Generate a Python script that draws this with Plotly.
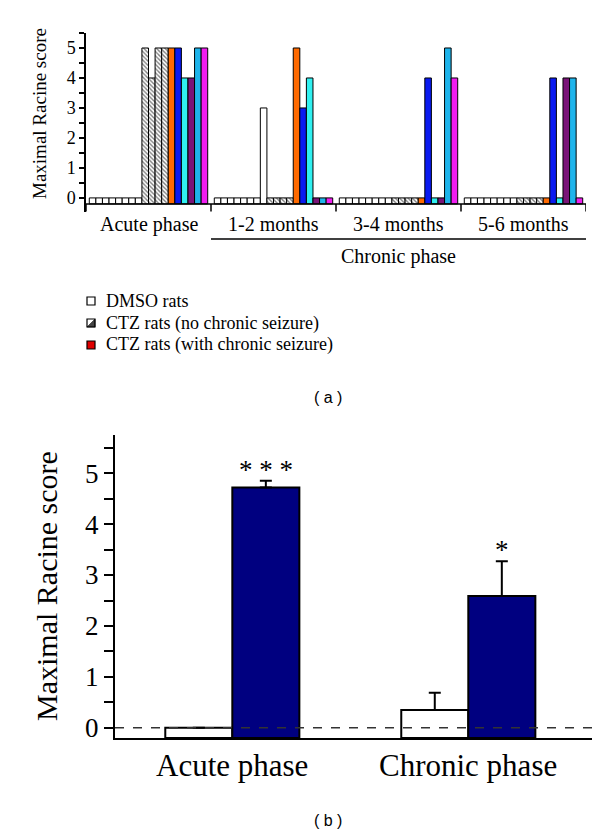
import plotly.graph_objects as go

# ---------------- data: panel (a) ----------------
groups = ["Acute phase", "1-2 months", "3-4 months", "5-6 months"]
dmso_scores = [
    [0, 0, 0, 0, 0, 0, 0, 0],
    [0, 0, 0, 0, 0, 0, 0, 3],
    [0, 0, 0, 0, 0, 0, 0, 0],
    [0, 0, 0, 0, 0, 0, 0, 0],
]
ctz_no_scores = [
    [5, 4, 5, 5],
    [0, 0, 0, 0],
    [0, 0, 0, 0],
    [0, 0, 0, 0],
]
ctz_with_scores = [
    [5, 5, 4, 4, 5, 5],
    [5, 3, 4, 0, 0, 0],
    [0, 4, 0, 0, 5, 4],
    [0, 4, 0, 4, 4, 0],
]
ctz_with_colors = ["#FF6A00", "#0A1AF0", "#30F0F0", "#7A1478", "#1EB4EB", "#F01EF0"]
legend_labels = ["DMSO rats", "CTZ rats (no chronic seizure)", "CTZ rats (with chronic seizure)"]
y_ticks = [0, 1, 2, 3, 4, 5]
y_minor = [0.5, 1.5, 2.5, 3.5, 4.5, 5.5]

# ---------------- data: panel (b) ----------------
phases = ["Acute phase", "Chronic phase"]
dmso_mean = [0.0, 0.35]
dmso_err = [0.0, 0.34]
ctz_mean = [4.72, 2.59]
ctz_err = [0.13, 0.68]
sig_marks = ["* * *", "*"]

SERIF = "Liberation Serif"
W, H = 600, 829


def px(x):
    return x / W


def py(y):
    return 1 - y / H


BASE_A = -0.2
fig = go.Figure()

# ----- panel (a) bars -----
slot = 19
dx, dy, hx, hy, cx, cy, cc = [], [], [], [], [], [], []
for g in range(len(groups)):
    for i, v in enumerate(dmso_scores[g]):
        dx.append(g * slot + 1 + i)
        dy.append(v - BASE_A)
    for i, v in enumerate(ctz_no_scores[g]):
        hx.append(g * slot + 9 + i)
        hy.append(v - BASE_A)
    for i, v in enumerate(ctz_with_scores[g]):
        cx.append(g * slot + 13 + i)
        cy.append(v - BASE_A)
        cc.append(ctz_with_colors[i])

fig.add_trace(go.Bar(x=dx, y=dy, base=BASE_A, width=1, xaxis="x", yaxis="y",
                     marker=dict(color="white", line=dict(color="black", width=1)),
                     showlegend=False, hoverinfo="skip"))
fig.add_trace(go.Bar(x=hx, y=hy, base=BASE_A, width=1, xaxis="x", yaxis="y",
                     marker=dict(color="white", line=dict(color="black", width=1),
                                 pattern=dict(shape="\\", size=3, solidity=0.45,
                                              fgcolor="black", bgcolor="white")),
                     showlegend=False, hoverinfo="skip"))
fig.add_trace(go.Bar(x=cx, y=cy, base=BASE_A, width=1, xaxis="x", yaxis="y",
                     marker=dict(color=cc, line=dict(color="black", width=1)),
                     showlegend=False, hoverinfo="skip"))

# ----- panel (b) bars -----
bx_white = [0, 3.52]
bx_blue = [1, 4.52]
BASE_B = -0.2
fig.add_trace(go.Bar(x=bx_white, y=[m - BASE_B for m in dmso_mean], base=BASE_B, width=1,
                     xaxis="x2", yaxis="y2",
                     marker=dict(color="white", line=dict(color="black", width=2)),
                     error_y=dict(type="data", symmetric=False, array=dmso_err,
                                  arrayminus=[0, 0], color="black", thickness=2, width=6),
                     showlegend=False, hoverinfo="skip"))
fig.add_trace(go.Bar(x=bx_blue, y=[m - BASE_B for m in ctz_mean], base=BASE_B, width=1,
                     xaxis="x2", yaxis="y2",
                     marker=dict(color="#000080", line=dict(color="black", width=2)),
                     error_y=dict(type="data", symmetric=False, array=ctz_err,
                                  arrayminus=[0, 0], color="black", thickness=2, width=6),
                     showlegend=False, hoverinfo="skip"))

shapes = []
annotations = []

# panel (a) x-axis line and ticks
shapes.append(dict(type="line", xref="x", yref="y", x0=0, x1=76, y0=BASE_A, y1=BASE_A,
                   line=dict(color="black", width=1.5)))
for g in range(len(groups) + 1):
    shapes.append(dict(type="line", xref="x", yref="y", x0=g * slot, x1=g * slot,
                       y0=BASE_A, y1=BASE_A - 0.25, line=dict(color="black", width=1.5)))
for g, name in enumerate(groups):
    annotations.append(dict(text=name, xref="x", yref="paper", x=g * slot + 9.5, y=py(216),
                            showarrow=False, font=dict(family=SERIF, size=20, color="black"),
                            xanchor="center", yanchor="middle"))
shapes.append(dict(type="line", xref="x", yref="paper", x0=19, x1=76, y0=py(231), y1=py(231),
                   line=dict(color="black", width=1.5)))
annotations.append(dict(text="Chronic phase", xref="x", yref="paper", x=47.5, y=py(249),
                        showarrow=False, font=dict(family=SERIF, size=20, color="black"),
                        xanchor="center", yanchor="middle"))
annotations.append(dict(text="Maximal Racine score", xref="paper", yref="paper",
                        x=px(31), y=py(106), textangle=-90, showarrow=False,
                        font=dict(family=SERIF, size=19, color="black"),
                        xanchor="center", yanchor="middle"))

# legend (drawn)
rows = [293, 315, 337]
for k, (lab, ry) in enumerate(zip(legend_labels, rows)):
    x0, x1 = 79, 87
    y0, y1 = ry - 4, ry + 4
    if k == 0:
        shapes.append(dict(type="rect", xref="paper", yref="paper", x0=px(x0), x1=px(x1),
                           y0=py(y1), y1=py(y0), line=dict(color="black", width=1.2),
                           fillcolor="white"))
    elif k == 1:
        shapes.append(dict(type="path", xref="paper", yref="paper",
                           path=f"M {px(x0)},{py(y1)} L {px(x1)},{py(y1)} L {px(x1)},{py(y0)} Z",
                           line=dict(color="black", width=0.5), fillcolor="#444"))
        shapes.append(dict(type="rect", xref="paper", yref="paper", x0=px(x0), x1=px(x1),
                           y0=py(y1), y1=py(y0), line=dict(color="black", width=1.2),
                           fillcolor="rgba(0,0,0,0)"))
    else:
        shapes.append(dict(type="rect", xref="paper", yref="paper", x0=px(x0), x1=px(x1),
                           y0=py(y1), y1=py(y0), line=dict(color="black", width=1.2),
                           fillcolor="#E00000"))
    annotations.append(dict(text=lab, xref="paper", yref="paper", x=px(96), y=py(ry),
                            showarrow=False, font=dict(family=SERIF, size=18, color="black"),
                            xanchor="left", yanchor="middle"))

annotations.append(dict(text="( a )", xref="paper", yref="paper", x=px(320), y=py(389),
                        showarrow=False, font=dict(family="Liberation Sans", size=16, color="black"),
                        xanchor="center", yanchor="middle"))
annotations.append(dict(text="( b )", xref="paper", yref="paper", x=px(320), y=py(812),
                        showarrow=False, font=dict(family="Liberation Sans", size=16, color="black"),
                        xanchor="center", yanchor="middle"))

# panel (b) dashed zero line
shapes.append(dict(type="line", xref="x2 domain", yref="y2", x0=0, x1=1, y0=0, y1=0,
                   line=dict(color="#333", width=1.5, dash="dash")))
# panel (b) category labels
for xc, name in zip([0.5, 4.02], phases):
    annotations.append(dict(text=name, xref="x2", yref="paper", x=xc, y=py(757),
                            showarrow=False, font=dict(family=SERIF, size=31, color="black"),
                            xanchor="center", yanchor="middle"))
annotations.append(dict(text="Maximal Racine score", xref="paper", yref="paper",
                        x=px(38), y=py(578), textangle=-90, showarrow=False,
                        font=dict(family=SERIF, size=30, color="black"),
                        xanchor="center", yanchor="middle"))
# significance marks
for xc, m, e, s in zip(bx_blue, ctz_mean, ctz_err, sig_marks):
    annotations.append(dict(text=s, xref="x2", yref="y2", x=xc, y=m + e - 0.12,
                            showarrow=False, font=dict(family=SERIF, size=27, color="black"),
                            xanchor="center", yanchor="bottom"))

fig.update_layout(
    width=W, height=H,
    margin=dict(l=0, r=0, t=0, b=0, autoexpand=False),
    paper_bgcolor="white", plot_bgcolor="white",
    barmode="overlay",
    showlegend=False,
    shapes=shapes,
    annotations=annotations,
    xaxis=dict(domain=[px(78), px(578)], range=[0, 76], visible=False, fixedrange=True,
               automargin=False),
    yaxis=dict(domain=[py(204), py(25)], range=[-0.47, 5.5], automargin=False,
               showline=True, linecolor="black", linewidth=1.5,
               ticks="outside", ticklen=5, tickwidth=1.5, tickcolor="black",
               tickvals=y_ticks, showgrid=False, zeroline=False,
               minor=dict(tickvals=y_minor, ticks="outside",
                          ticklen=5, tickwidth=1.5, tickcolor="black", showgrid=False),
               tickfont=dict(family=SERIF, size=18, color="black")),
    xaxis2=dict(domain=[px(107), px(585)], range=[-1.25, 5.88], anchor="y2", automargin=False,
                showline=True, linecolor="black", linewidth=2, showticklabels=False,
                ticks="", showgrid=False, zeroline=False),
    yaxis2=dict(domain=[py(730), py(427)], range=[-0.2, 5.75], anchor="x2", automargin=False,
                showline=True, linecolor="black", linewidth=2,
                ticks="outside", ticklen=9, tickwidth=2, tickcolor="black",
                tickvals=y_ticks, showgrid=False, zeroline=False,
                minor=dict(tickvals=y_minor, ticks="outside",
                           ticklen=9, tickwidth=2, tickcolor="black", showgrid=False),
                tickfont=dict(family=SERIF, size=27, color="black")),
)

fig.write_html("out.html")
